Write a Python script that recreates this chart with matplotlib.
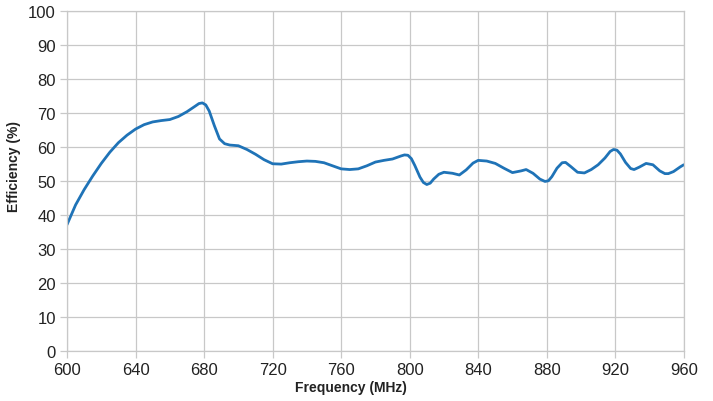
import numpy as np
import matplotlib.pyplot as plt

plt.rcParams['font.family'] = ['Liberation Sans', 'DejaVu Sans']

# efficiency
freq = [600, 605, 610, 615, 620, 625, 630, 635, 640, 645, 650, 655, 660, 665, 670, 675, 677, 679, 681,
        683, 686, 689, 692, 695, 700, 705, 710, 715, 720, 725, 730, 735, 740, 745, 750, 755, 760,
        765, 770, 775, 780, 785, 790, 795, 797, 799, 801, 803, 806, 808, 810, 812, 814, 817, 820, 825, 829, 833,
        837, 840, 845, 850, 855, 860, 865, 868, 872, 876, 879, 881, 883, 886, 889, 891, 894, 898, 902, 906,
        910, 914, 917, 919, 921, 923, 926, 929, 931, 934, 938, 942, 946, 949, 951, 954, 958, 960]
eff = [37.2, 43.0, 47.5, 51.5, 55.2, 58.5, 61.3, 63.5, 65.3, 66.6, 67.4, 67.8, 68.1, 69.0, 70.4, 72.1, 72.8, 73.0, 72.4,
       70.6, 66.3, 62.4, 61.0, 60.6, 60.4, 59.3, 57.9, 56.3, 55.1, 55.0, 55.4, 55.7, 55.9, 55.8, 55.4, 54.5, 53.6,
       53.4, 53.6, 54.5, 55.6, 56.1, 56.5, 57.4, 57.7, 57.6, 56.6, 54.6, 51.2, 49.6, 49.0, 49.4, 50.6, 52.0, 52.6, 52.3, 51.8, 53.3,
       55.3, 56.1, 55.9, 55.2, 53.8, 52.5, 53.0, 53.4, 52.3, 50.6, 49.9, 50.1, 51.3, 53.8, 55.4, 55.5, 54.3, 52.6, 52.4, 53.4,
       54.8, 56.8, 58.7, 59.3, 59.1, 58.0, 55.5, 53.7, 53.4, 54.1, 55.2, 54.8, 53.0, 52.2, 52.2, 52.8, 54.2, 54.8]

xticks = np.arange(600, 961, 40)
yticks = np.arange(0, 101, 10)

fig = plt.figure(figsize=(7.13, 4.02), dpi=100)
ax = fig.add_axes([0.094, 0.124, 0.865, 0.846])

ax.plot(freq, eff, color='#1f73b7', lw=2.0, solid_joinstyle='round', solid_capstyle='round')

ax.set_xlim(600, 960)
ax.set_ylim(0, 100)
ax.set_xticks(xticks)
ax.set_yticks(yticks)
ax.grid(True, color='#c8c8c8', lw=0.9)
ax.set_axisbelow(True)
for s in ax.spines.values():
    s.set_color('#c8c8c8')
    s.set_linewidth(0.9)
ax.tick_params(colors='#c8c8c8', labelcolor='#222222', labelsize=12, length=5, width=0.9, pad=3)

ax.set_xlabel('Frequency (MHz)', fontsize=10, fontweight='bold', color='#222222')
ax.set_ylabel('Efficiency (%)', fontsize=10, fontweight='bold', color='#222222')
ax.xaxis.set_label_coords(0.46, -0.085)
ax.yaxis.set_label_coords(-0.075, 0.547)

fig.savefig('out.png', dpi=100)
